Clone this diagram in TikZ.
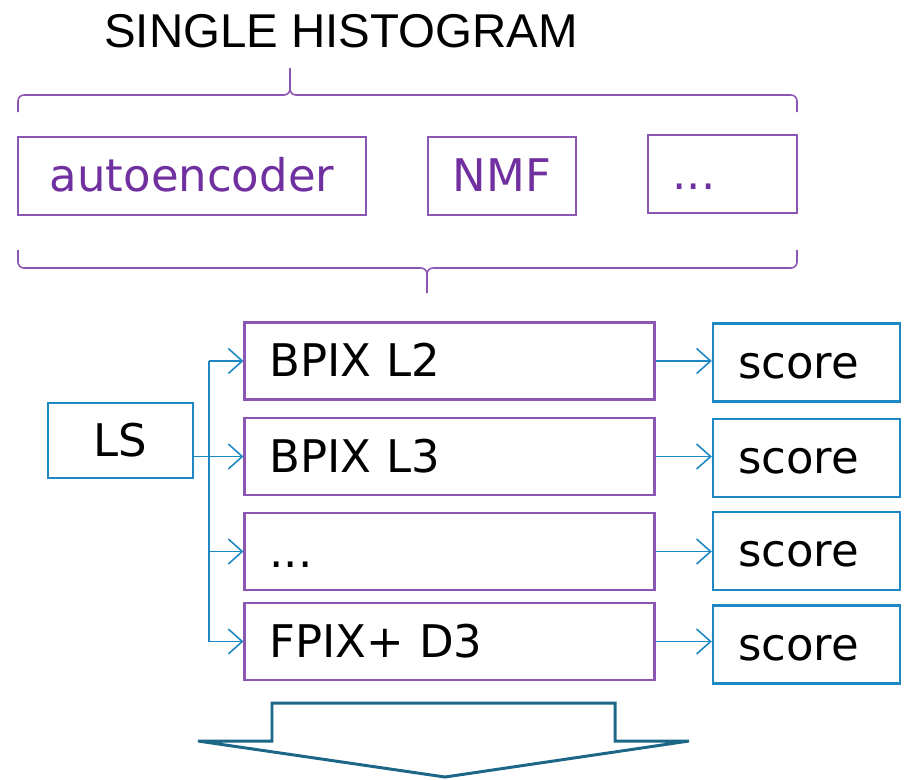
\documentclass[tikz,border=0pt]{standalone}
\usepackage{fontspec}
\setmainfont{DejaVu Sans}
\newfontfamily\titlefont{Liberation Sans}
\usetikzlibrary{arrows.meta}
\definecolor{boxpurple}{RGB}{140,86,180}
\definecolor{txtpurple}{RGB}{112,48,160}
\definecolor{boxblue}{RGB}{30,136,196}
\definecolor{bigblue}{RGB}{28,103,136}
\tikzset{
  boxfont/.style={font=\fontsize{25.6}{30}\selectfont, text height=0.72cm, text depth=0.1cm},
  methodbox/.style={draw=boxpurple, line width=1.2pt, text=txtpurple, minimum height=1.56cm, boxfont},
  histbox/.style={draw=boxpurple, line width=1.2pt, minimum height=1.54cm, text width=7.2cm, inner xsep=0.5cm, align=left, boxfont},
  bluebox/.style={draw=boxblue, line width=1.4pt, minimum height=1.56cm, boxfont},
  brace/.style={draw=boxpurple, line width=0.9pt},
  flow/.style={draw=boxblue, line width=0.9pt, -{Straight Barb[length=0.28cm, width=0.5cm]}}
}
\begin{document}
\begin{tikzpicture}[x=0.02cm, y=-0.02cm]
  \useasboundingbox (0,0) rectangle (912,779);
  \node[font=\titlefont\fontsize{27}{32}\selectfont] (title) at (341,31) {SINGLE HISTOGRAM};
  % methods
  \node[methodbox, minimum width=6.96cm] (ae) at (192,176) {autoencoder};
  \node[methodbox, minimum width=2.96cm] (nmf) at (502,176) {NMF};
  \node[methodbox, minimum width=2.98cm, text width=2.0cm, inner xsep=0.48cm, align=left] (more) at (722.5,174) {...};
  % braces
  \draw[brace] (18,112) -- (18,101) to[out=90, in=180] (24,95) -- (284,95) to[out=0, in=-90] (290,89) -- (290,68);
  \draw[brace] (290,89) to[out=-90, in=180] (296,95) -- (791,95) to[out=0, in=90] (797,101) -- (797,112);
  \draw[brace] (18,250) -- (18,262) to[out=-90, in=180] (24,268) -- (421,268) to[out=0, in=90] (427,274) -- (427,293);
  \draw[brace] (427,274) to[out=90, in=180] (433,268) -- (791,268) to[out=0, in=-90] (797,262) -- (797,250);
  % histograms
  \node[bluebox, minimum width=2.9cm, minimum height=1.5cm] (LS) at (120.5,440.5) {LS};
  \node[histbox] (bpix2) at (449.5,361) {BPIX L2};
  \node[histbox] (bpix3) at (449.5,456.5) {BPIX L3};
  \node[histbox] (dotsrow) at (449.5,551.5) {...};
  \node[histbox] (fpix) at (449.5,641.5) {FPIX+ D3};
  \node[bluebox, minimum width=3.74cm, text width=2.74cm, inner xsep=0.5cm, align=left] (s1) at (806.5,362.5) {score};
  \node[bluebox, minimum width=3.74cm, text width=2.74cm, inner xsep=0.5cm, align=left] (s2) at (806.5,458) {score};
  \node[bluebox, minimum width=3.74cm, text width=2.74cm, inner xsep=0.5cm, align=left] (s3) at (806.5,551) {score};
  \node[bluebox, minimum width=3.74cm, text width=2.74cm, inner xsep=0.5cm, align=left] (s4) at (806.5,644.5) {score};
  \coordinate (trunkx) at (209,0);
  \draw[draw=boxblue, line width=0.9pt] (bpix2.west -| trunkx) -- (fpix.west -| trunkx);
  \draw[flow] (LS.east |- bpix3.west) -- (bpix3.west);
  \foreach \dest in {bpix2, dotsrow, fpix}
    \draw[flow] (\dest.west -| trunkx) -- (\dest.west);
  \foreach \source/\dest in {bpix2/s1, bpix3/s2, dotsrow/s3, fpix/s4}
    \draw[flow] (\source.east) -- (\source.east -| \dest.west);
  % big arrow
  \draw[draw=bigblue, line width=1.7pt] (272,703) -- (615,703) -- (615,741) -- (689,741) -- (445,777) -- (198,741) -- (272,741) -- cycle;
\end{tikzpicture}
\end{document}
